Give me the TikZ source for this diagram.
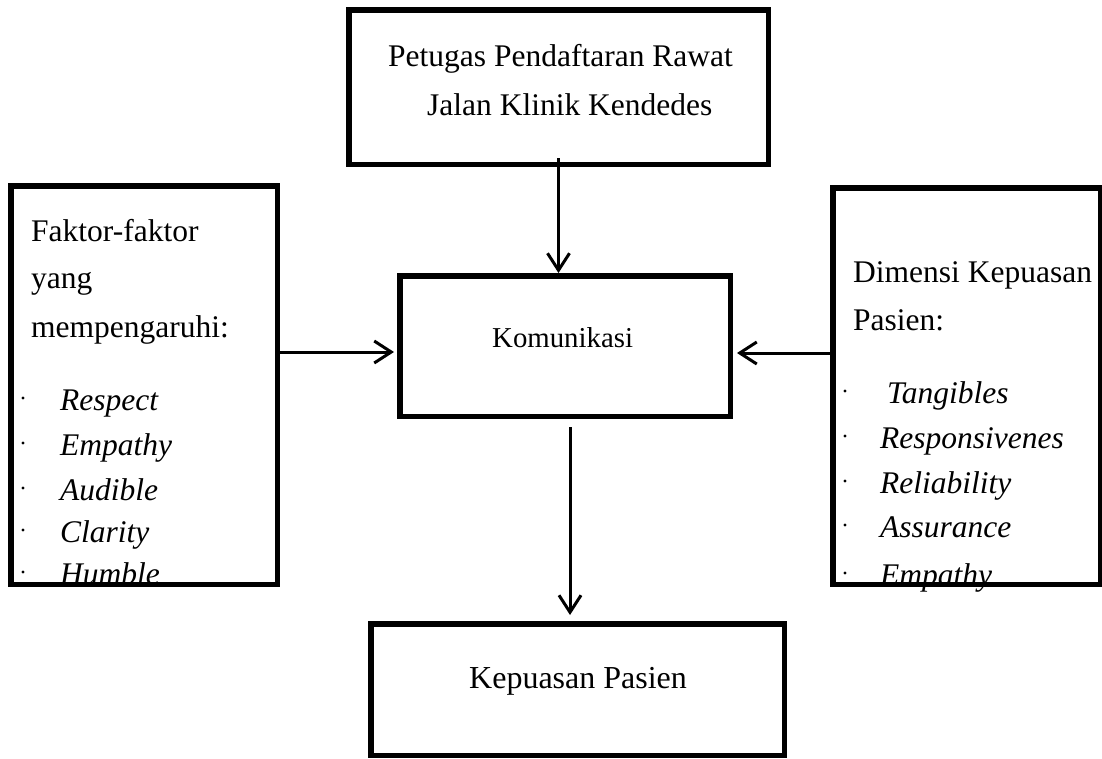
\documentclass[tikz,border=0pt]{standalone}
\usepackage{fontspec}
\setmainfont{Liberation Serif}
\usetikzlibrary{arrows.meta,calc}
\begin{document}
\begin{tikzpicture}[x=1pt,y=-1pt,
  box/.style={draw=black,line width=5.5pt,rectangle,inner sep=0pt},
  txt/.style={inner sep=0pt,anchor=base west,font=\fontsize{31.5}{36}\selectfont},
  itm/.style={txt,font=\fontsize{31.5}{36}\selectfont\itshape},
  arr/.style={line width=3pt,-{Straight Barb[length=17pt,width=22pt]}},
  dot/.style={fill=black}]
\useasboundingbox (0,0) rectangle (1102,758);
% texts
\node[txt] (t1) at (388,66) {Petugas Pendaftaran Rawat};
\node[txt] (t2) at (427,115) {Jalan Klinik Kendedes};
\node[txt,font=\fontsize{28.8}{34}\selectfont] (tk) at (492,347) {Komunikasi};
\node[txt,font=\fontsize{32}{36}\selectfont] (tp) at (469,688) {Kepuasan Pasien};
% left texts
\node[txt] (l1) at (31,241) {Faktor-faktor};
\node[txt] (l2) at (31,288) {yang};
\node[txt] (l3) at (31,337) {mempengaruhi:};
\node[itm] (li1) at (60,410) {Respect};
\node[itm] (li2) at (60,455) {Empathy};
\node[itm] (li3) at (60,500) {Audible};
\node[itm] (li4) at (60,542) {Clarity};
\node[itm] (li5) at (60,584) {Humble};
\foreach \yy in {410,455,500,542,584} \fill[dot] (23,\yy-12) circle (1.7);
% right texts
\node[txt] (r1) at (853,282) {Dimensi Kepuasan};
\node[txt] (r2) at (853,330) {Pasien:};
\node[itm] (ri1) at (887,403) {Tangibles};
\node[itm] (ri2) at (880,448) {Responsivenes};
\node[itm] (ri3) at (880,493) {Reliability};
\node[itm] (ri4) at (880,537) {Assurance};
\node[itm] (ri5) at (880,585) {Empathy};
\foreach \yy in {403,448,493,537,585} \fill[dot] (845,\yy-12) circle (1.7);
% boxes
\node[box,minimum width=419.5pt,minimum height=154.5pt] (top) at (558.5,87) {};
\node[box,minimum width=330.5pt,minimum height=140.5pt] (kom) at (565,346) {};
\node[box,minimum width=266.5pt,minimum height=398.5pt] (left) at (144,385) {};
\node[box,minimum width=267.5pt,minimum height=396.5pt] (right) at (966.5,386) {};
\node[box,minimum width=413.5pt,minimum height=131.5pt] (bot) at (577.5,689.5) {};
% arrows
\coordinate (kin) at ($(kom.west)+(-3pt,-6pt)$);
\coordinate (kin2) at ($(kom.east)+(4pt,-7pt)$);
\draw[arr] ($(top.south)+(0pt,9pt)$) -- (top.south |- kom.north);
\draw[arr] (left.east |- kin) -- (kin);
\draw[arr] (right.west |- kin2) -- (kin2);
\draw[arr] ($(kom.south)+(5pt,-8pt)$) -- ($(kom.south |- bot.north)+(5pt,6pt)$);
\end{tikzpicture}
\end{document}
